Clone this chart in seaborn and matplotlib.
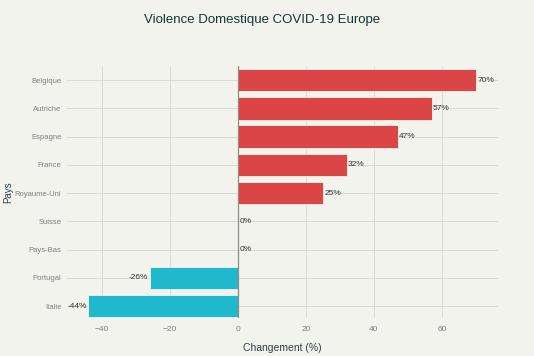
import pandas as pd
import seaborn as sns
import matplotlib.pyplot as plt

# Données (changement en %)
pays = ['Belgique', 'Autriche', 'Espagne', 'France', 'Royaume-Uni',
        'Suisse', 'Pays-Bas', 'Portugal', 'Italie']
changement = [70, 57, 47, 32, 25, 0, 0, -26, -44]

df = pd.DataFrame({'Pays': pays, 'Changement': changement})

rouge = '#DB4545'
bleu = '#1FB8CD'
couleurs = [rouge if v >= 0 else bleu for v in changement]

sns.set_style('white')
plt.rcParams['font.family'] = ['Liberation Sans', 'DejaVu Sans']

fig = plt.figure(figsize=(5.34, 3.56), dpi=100, facecolor='#F3F3EE')
ax = fig.add_axes([0.1255, 0.1067, 0.807, 0.708])
ax.set_facecolor('#F3F3EE')

sns.barplot(data=df, x='Changement', y='Pays', hue='Pays', palette=couleurs,
            orient='h', width=0.8, saturation=1, legend=False, ax=ax,
            edgecolor='#F3F3EE', linewidth=0.6, zorder=2)

# Étiquettes de valeur
for i, v in enumerate(changement):
    if v >= 0:
        ax.text(v + 0.4, i, f'{v}%', va='center', ha='left', fontsize=6, color='#333333', zorder=3)
    else:
        ax.text(v - 0.4, i, f'{v}%', va='center', ha='right', fontsize=6, color='#333333', zorder=3)

ax.set_xlim(-50.3, 76.5)
ax.set_ylim(8.42, -0.5)
ax.set_xticks([-40, -20, 0, 20, 40, 60])
ax.grid(True, color='#DCDCD6', linewidth=0.7, zorder=0)
ax.axvline(0, color='#8A8A8A', linewidth=0.9, zorder=3)
for s in ax.spines.values():
    s.set_visible(False)

ax.tick_params(axis='both', length=0, colors='#7F7F7F')
ax.tick_params(axis='x', pad=6, labelsize=6)
ax.tick_params(axis='y', pad=4, labelsize=5.5)
ax.set_xlabel('Changement (%)', fontsize=7.5, color='#2A3F4F', labelpad=7)
ax.set_ylabel('Pays', fontsize=7, color='#2A3F4F')
ax.yaxis.set_label_coords(-0.125, 0.5)

fig.suptitle('Violence Domestique COVID-19 Europe', x=0.49, y=0.96,
             fontsize=9.5, color='#13343B')

fig.savefig('out.png', dpi=100, facecolor=fig.get_facecolor())
